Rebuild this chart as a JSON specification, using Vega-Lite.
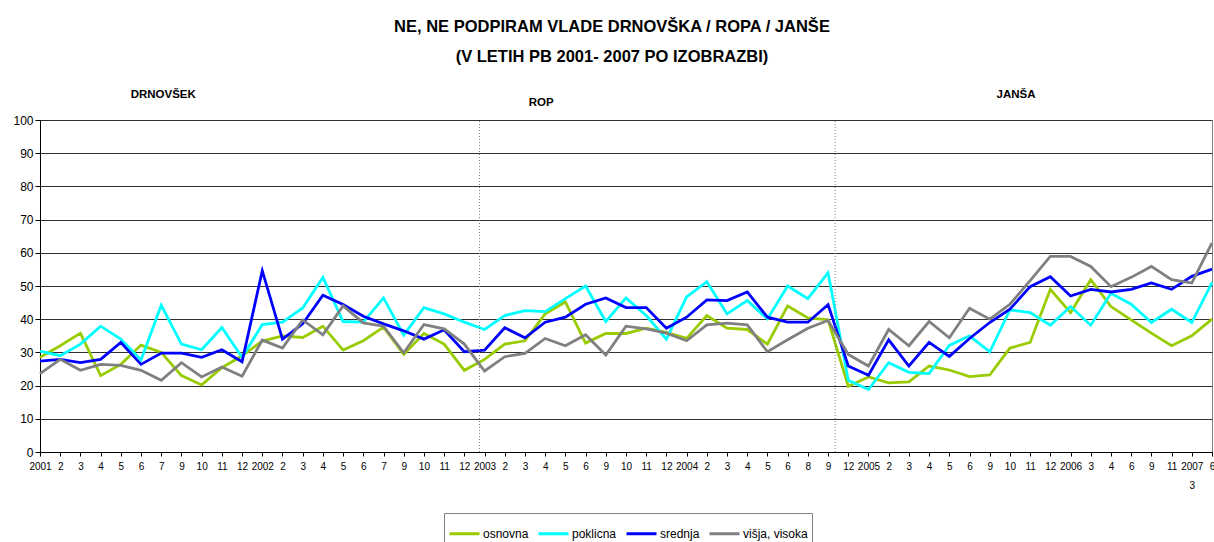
{
  "$schema": "https://vega.github.io/schema/vega-lite/v6.json",
  "width": 1172,
  "height": 332,
  "autosize": {"type": "none"},
  "padding": {"left": 40, "top": 120, "right": 2, "bottom": 90},
  "background": "white",
  "config": {
    "font": "Liberation Sans",
    "view": {"stroke": "#808080", "strokeWidth": 1},
    "axis": {"labelOverlap": false}
  },
  "title": {
    "text": ["NE, NE PODPIRAM VLADE DRNOVŠKA / ROPA / JANŠE", "(V LETIH PB 2001- 2007 PO IZOBRAZBI)"],
    "font": "Liberation Sans",
    "fontSize": 16.5,
    "fontWeight": "bold",
    "color": "black",
    "anchor": "middle",
    "dx": -14,
    "offset": 23,
    "lineHeight": 30
  },
  "datasets": {
    "series": [
      {"i": 0, "osnovna": 28.5, "poklicna": 30.4, "srednja": 27.4, "višja, visoka": 23.6},
      {"i": 1, "osnovna": 32, "poklicna": 29, "srednja": 27.9, "višja, visoka": 27.9},
      {"i": 2, "osnovna": 35.8, "poklicna": 32.5, "srednja": 26.9, "višja, visoka": 24.6},
      {"i": 3, "osnovna": 23, "poklicna": 37.9, "srednja": 27.9, "višja, visoka": 26.4},
      {"i": 4, "osnovna": 26.4, "poklicna": 34, "srednja": 33, "višja, visoka": 26.1},
      {"i": 5, "osnovna": 32.2, "poklicna": 27.7, "srednja": 26.4, "višja, visoka": 24.6},
      {"i": 6, "osnovna": 30, "poklicna": 44.2, "srednja": 29.8, "višja, visoka": 21.6},
      {"i": 7, "osnovna": 23, "poklicna": 32.5, "srednja": 29.8, "višja, visoka": 26.9},
      {"i": 8, "osnovna": 20.2, "poklicna": 30.8, "srednja": 28.5, "višja, visoka": 22.6},
      {"i": 9, "osnovna": 25.4, "poklicna": 37.5, "srednja": 30.8, "višja, visoka": 25.6},
      {"i": 10, "osnovna": 29, "poklicna": 28.5, "srednja": 27.2, "višja, visoka": 22.8},
      {"i": 11, "osnovna": 33.4, "poklicna": 38.4, "srednja": 54.6, "višja, visoka": 33.7},
      {"i": 12, "osnovna": 35, "poklicna": 39.1, "srednja": 34, "višja, visoka": 31.3},
      {"i": 13, "osnovna": 34.5, "poklicna": 43.4, "srednja": 38.6, "višja, visoka": 39.8},
      {"i": 14, "osnovna": 37.9, "poklicna": 52.6, "srednja": 47.2, "višja, visoka": 35.3},
      {"i": 15, "osnovna": 30.7, "poklicna": 39.3, "srednja": 44.4, "višja, visoka": 44},
      {"i": 16, "osnovna": 33.5, "poklicna": 39.1, "srednja": 40.9, "višja, visoka": 38.9},
      {"i": 17, "osnovna": 37.6, "poklicna": 46.4, "srednja": 38.6, "višja, visoka": 37.9},
      {"i": 18, "osnovna": 29.4, "poklicna": 35.2, "srednja": 36.5, "višja, visoka": 29.9},
      {"i": 19, "osnovna": 35.7, "poklicna": 43.5, "srednja": 34, "višja, visoka": 38.4},
      {"i": 20, "osnovna": 32.5, "poklicna": 41.6, "srednja": 36.8, "višja, visoka": 37.1},
      {"i": 21, "osnovna": 24.6, "poklicna": 39.1, "srednja": 30.2, "višja, visoka": 32.5},
      {"i": 22, "osnovna": 27.9, "poklicna": 36.9, "srednja": 30.7, "višja, visoka": 24.4},
      {"i": 23, "osnovna": 32.5, "poklicna": 41.1, "srednja": 37.4, "višja, visoka": 28.7},
      {"i": 24, "osnovna": 33.5, "poklicna": 42.6, "srednja": 34.4, "višja, visoka": 29.7},
      {"i": 25, "osnovna": 41.6, "poklicna": 42.3, "srednja": 39.1, "višja, visoka": 34.2},
      {"i": 26, "osnovna": 45.2, "poklicna": 46.2, "srednja": 40.6, "višja, visoka": 32},
      {"i": 27, "osnovna": 32.8, "poklicna": 50, "srednja": 44.5, "višja, visoka": 35.3},
      {"i": 28, "osnovna": 35.7, "poklicna": 39.3, "srednja": 46.4, "višja, visoka": 29.2},
      {"i": 29, "osnovna": 35.7, "poklicna": 46.4, "srednja": 43.5, "višja, visoka": 37.9},
      {"i": 30, "osnovna": 37.3, "poklicna": 41.1, "srednja": 43.5, "višja, visoka": 37.1},
      {"i": 31, "osnovna": 36, "poklicna": 34, "srednja": 37.3, "višja, visoka": 35.8},
      {"i": 32, "osnovna": 34.2, "poklicna": 46.7, "srednja": 40.6, "višja, visoka": 33.5},
      {"i": 33, "osnovna": 41.1, "poklicna": 51.3, "srednja": 45.8, "višja, visoka": 38.3},
      {"i": 34, "osnovna": 37.3, "poklicna": 41.6, "srednja": 45.6, "višja, visoka": 38.8},
      {"i": 35, "osnovna": 36.9, "poklicna": 45.6, "srednja": 48.2, "višja, visoka": 38.3},
      {"i": 36, "osnovna": 32.5, "poklicna": 40.1, "srednja": 40.6, "višja, visoka": 30.2},
      {"i": 37, "osnovna": 44, "poklicna": 50, "srednja": 39.1, "višja, visoka": 33.8},
      {"i": 38, "osnovna": 40.4, "poklicna": 46.2, "srednja": 39.1, "višja, visoka": 37.3},
      {"i": 39, "osnovna": 39.8, "poklicna": 54, "srednja": 44.4, "višja, visoka": 39.6},
      {"i": 40, "osnovna": 19.8, "poklicna": 21.6, "srednja": 25.9, "višja, visoka": 29.4},
      {"i": 41, "osnovna": 22.6, "poklicna": 18.8, "srednja": 23.1, "višja, visoka": 25.9},
      {"i": 42, "osnovna": 20.8, "poklicna": 26.9, "srednja": 33.8, "višja, visoka": 36.9},
      {"i": 43, "osnovna": 21.1, "poklicna": 24, "srednja": 25.9, "višja, visoka": 32},
      {"i": 44, "osnovna": 25.9, "poklicna": 23.6, "srednja": 33, "višja, visoka": 39.3},
      {"i": 45, "osnovna": 24.7, "poklicna": 32.1, "srednja": 28.8, "višja, visoka": 34.4},
      {"i": 46, "osnovna": 22.7, "poklicna": 35, "srednja": 34.2, "višja, visoka": 43.3},
      {"i": 47, "osnovna": 23.2, "poklicna": 30.2, "srednja": 39, "višja, visoka": 40},
      {"i": 48, "osnovna": 31.3, "poklicna": 42.8, "srednja": 43, "višja, visoka": 44.5},
      {"i": 49, "osnovna": 33, "poklicna": 42, "srednja": 49.8, "višja, visoka": 51.6},
      {"i": 50, "osnovna": 49, "poklicna": 38.2, "srednja": 52.8, "višja, visoka": 58.9},
      {"i": 51, "osnovna": 42, "poklicna": 43.8, "srednja": 47, "višja, visoka": 58.9},
      {"i": 52, "osnovna": 51.9, "poklicna": 38.2, "srednja": 49, "višja, visoka": 55.9},
      {"i": 53, "osnovna": 43.8, "poklicna": 47.8, "srednja": 48.2, "višja, visoka": 49.8},
      {"i": 54, "osnovna": 39.8, "poklicna": 44.5, "srednja": 49, "višja, visoka": 52.6},
      {"i": 55, "osnovna": 35.8, "poklicna": 39, "srednja": 50.9, "višja, visoka": 55.9},
      {"i": 56, "osnovna": 32, "poklicna": 43, "srednja": 49, "višja, visoka": 51.9},
      {"i": 57, "osnovna": 35, "poklicna": 39, "srednja": 52.9, "višja, visoka": 50.9},
      {"i": 58, "osnovna": 40, "poklicna": 51, "srednja": 55.1, "višja, visoka": 63}
    ],
    "dividers": [{"i": 21.75}, {"i": 39.35}],
    "sections": [
      {"i": 6.1, "v": 107.6, "name": "DRNOVŠEK"},
      {"i": 24.8, "v": 105.2, "name": "ROP"},
      {"i": 48.3, "v": 107.6, "name": "JANŠA"}
    ]
  },
  "layer": [
    {
      "data": {"name": "series"},
      "transform": [{"fold": ["osnovna", "poklicna", "srednja", "višja, visoka"], "as": ["serija", "vrednost"]}],
      "mark": {"type": "line", "strokeWidth": 2.8, "strokeJoin": "miter"},
      "encoding": {
        "x": {
          "field": "i",
          "type": "quantitative",
          "scale": {"domain": [0, 58], "nice": false, "zero": false},
          "axis": {
            "title": null,
            "values": [0,1,2,3,4,5,6,7,8,9,10,11,12,13,14,15,16,17,18,19,20,21,22,23,24,25,26,27,28,29,30,31,32,33,34,35,36,37,38,39,40,41,42,43,44,45,46,47,48,49,50,51,52,53,54,55,56,57,58],
            "tickCount": 200,
            "labelExpr": "datum.value == 57 ? ['2007', '3'] : ['2001','2','3','4','5','6','7','9','10','11','12','2002','2','3','4','5','6','7','9','10','11','12','2003','2','3','4','5','6','9','10','11','12','2004','2','3','4','5','6','8','9','12','2005','2','3','4','5','6','9','10','11','12','2006','3','4','6','9','11','2007','6'][datum.value]",
            "grid": false,
            "domainColor": "black",
            "domainWidth": 1,
            "tickColor": "black",
            "tickSize": 4,
            "labelFontSize": 10,
            "labelColor": "black",
            "labelPadding": 5,
            "labelOverlap": false,
            "labelFlush": false,
            "labelAlign": "center",
            "labelLineHeight": 19
          }
        },
        "y": {
          "field": "vrednost",
          "type": "quantitative",
          "scale": {"domain": [0, 100], "nice": false},
          "axis": {
            "title": null,
            "values": [0, 10, 20, 30, 40, 50, 60, 70, 80, 90, 100],
            "tickCount": 50,
            "gridColor": "#303030",
            "gridWidth": 1,
            "domainColor": "black",
            "tickColor": "black",
            "tickSize": 5,
            "labelFontSize": 12,
            "labelColor": "black",
            "labelPadding": 2
          }
        },
        "color": {
          "field": "serija",
          "type": "nominal",
          "scale": {
            "domain": ["osnovna", "poklicna", "srednja", "višja, visoka"],
            "range": ["#99CC00", "#00FFFF", "#0000FF", "#808080"]
          },
          "legend": {
            "title": null,
            "orient": "none",
            "direction": "horizontal",
            "columns": 4,
            "legendX": 404,
            "legendY": 393,
            "symbolType": "stroke",
            "symbolStrokeWidth": 3,
            "symbolSize": 900,
            "labelFontSize": 12,
            "labelColor": "black",
            "labelOffset": 2,
            "columnPadding": 3,
            "padding": 4,
            "strokeColor": "#808080",
            "fillColor": "white"
          }
        }
      }
    },
    {
      "data": {"name": "dividers"},
      "mark": {"type": "rule", "color": "#808080", "strokeWidth": 1, "strokeDash": [1, 2]},
      "encoding": {
        "x": {"field": "i", "type": "quantitative"},
        "y": {"datum": 0, "type": "quantitative"},
        "y2": {"datum": 100}
      }
    },
    {
      "data": {"name": "sections"},
      "mark": {"type": "text", "fontWeight": "bold", "fontSize": 11.5, "color": "black", "align": "center", "baseline": "middle"},
      "encoding": {
        "x": {"field": "i", "type": "quantitative"},
        "y": {"field": "v", "type": "quantitative"},
        "text": {"field": "name"}
      }
    }
  ]
}
